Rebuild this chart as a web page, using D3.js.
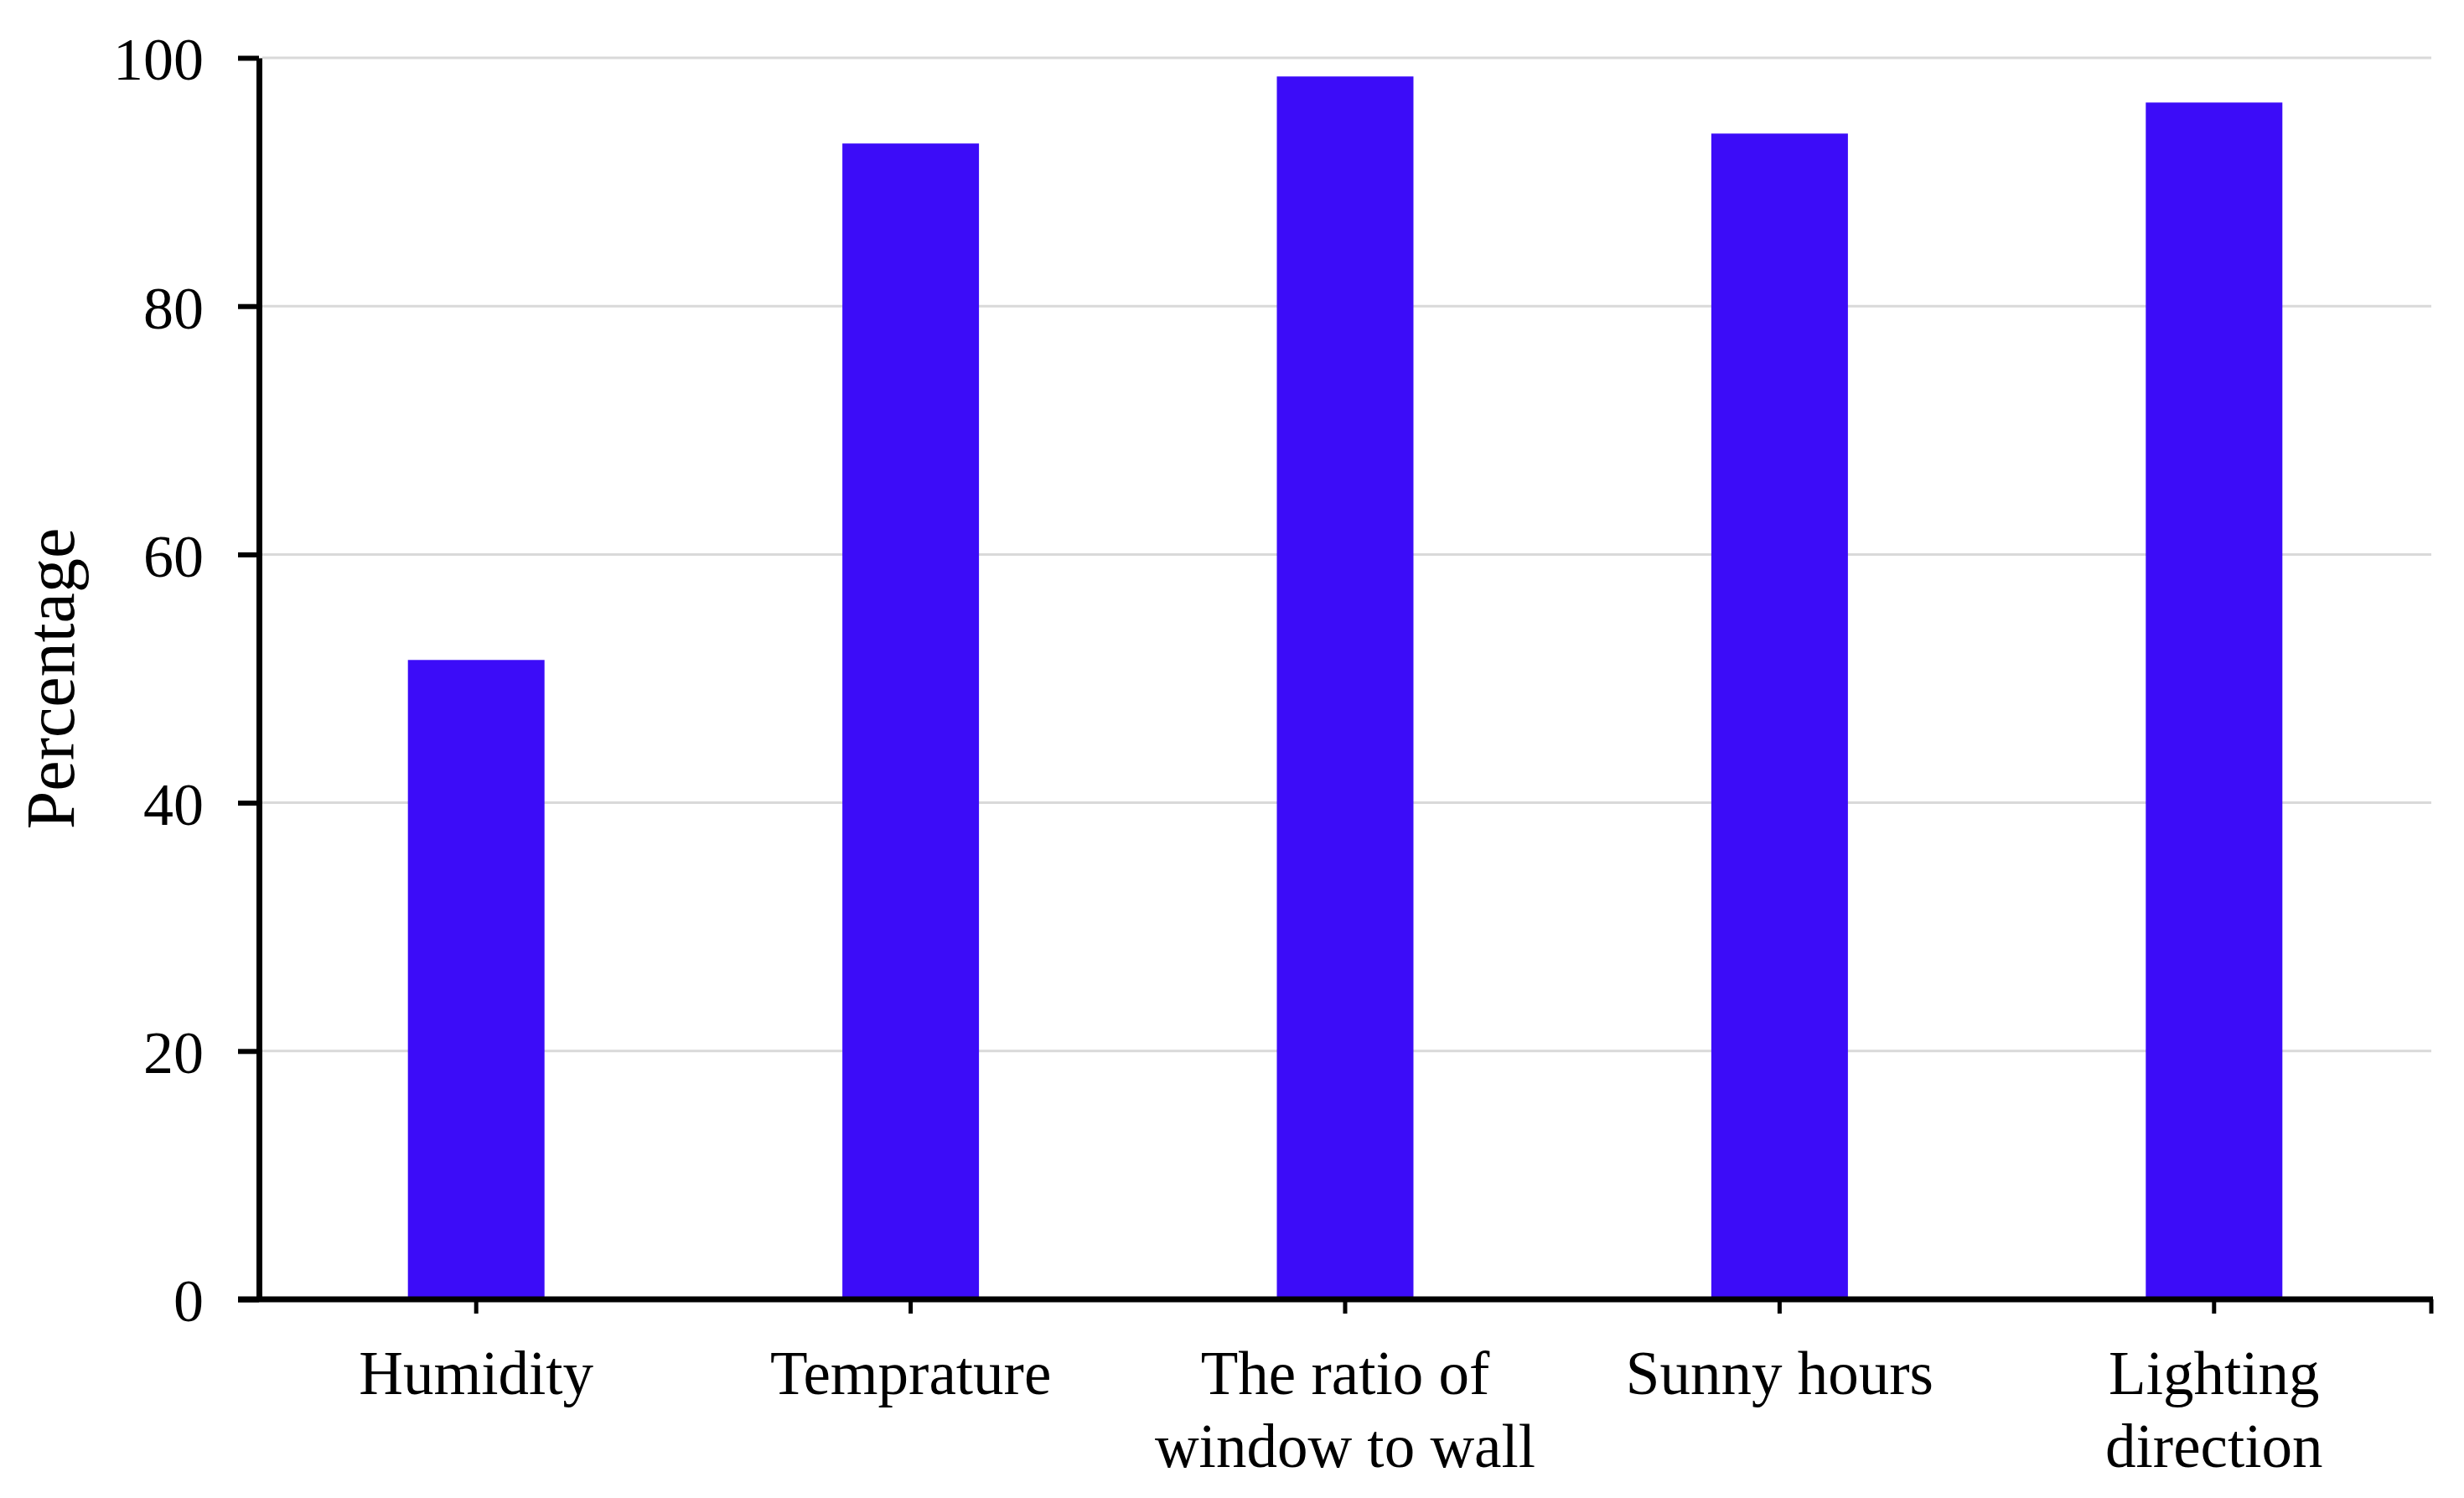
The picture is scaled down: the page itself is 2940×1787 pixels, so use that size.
<!DOCTYPE html>
<html>
<head>
<meta charset="utf-8">
<script src="https://cdn.jsdelivr.net/npm/d3@7"></script>
<style>
  html, body { margin: 0; padding: 0; background: #fff; }
  svg { display: block; }
  text { font-family: "Liberation Serif", "Times New Roman", serif; fill: #000; }
</style>
</head>
<body>
<svg id="chart" width="2940" height="1787"></svg>
<script>
const categories = [
  ["Humidity"],
  ["Temprature"],
  ["The ratio of", "window to wall"],
  ["Sunny hours"],
  ["Lighting", "direction"]
];
const values = [51.5, 93.1, 98.5, 93.9, 96.4];
const yTicks = [0, 20, 40, 60, 80, 100];
const yLabel = "Percentage";

const W = 2940, H = 1787;
const m = { left: 309, right: 39, top: 69, bottom: 237 };
const svg = d3.select("#chart");
const x = d3.scaleBand().domain(d3.range(categories.length))
  .range([m.left, W - m.right]).padding(0);
const y = d3.scaleLinear().domain([0, 100]).range([H - m.bottom, m.top]);
const barW = x.bandwidth() * 0.3144;

// gridlines
svg.append("g").selectAll("line").data(yTicks.filter(d => d > 0)).join("line")
  .attr("x1", m.left + 4).attr("x2", W - m.right)
  .attr("y1", d => y(d)).attr("y2", d => y(d))
  .attr("stroke", "#d9d9d9").attr("stroke-width", 3);

// bars
svg.append("g").selectAll("rect").data(values).join("rect")
  .attr("x", (d, i) => x(i) + x.bandwidth() / 2 - barW / 2)
  .attr("width", barW)
  .attr("y", d => y(d))
  .attr("height", d => y(0) - y(d))
  .attr("fill", "#3c0cf8");

// y axis
const yAxis = svg.append("g").attr("transform", `translate(${m.left},0)`)
  .call(d3.axisLeft(y).tickValues(yTicks).tickSize(25).tickSizeOuter(0).tickPadding(41));
yAxis.select(".domain").attr("stroke", "#000").attr("stroke-width", 7);
yAxis.selectAll(".tick line").attr("stroke", "#000").attr("stroke-width", 6);
yAxis.selectAll(".tick text").attr("font-size", 72)
  .attr("font-family", "Liberation Serif").attr("dy", "0.36em");

// x axis
const xAxis = svg.append("g").attr("transform", `translate(0,${y(0)})`)
  .call(d3.axisBottom(x).tickSize(17).tickSizeOuter(0).tickFormat(""));
xAxis.select(".domain").remove();
xAxis.selectAll(".tick line").attr("stroke", "#000").attr("stroke-width", 5);
xAxis.append("line").attr("x1", m.left - 25).attr("x2", W - m.right + 2)
  .attr("y1", 0).attr("y2", 0).attr("stroke", "#000").attr("stroke-width", 7);
xAxis.append("line").attr("x1", W - m.right).attr("x2", W - m.right)
  .attr("y1", 0).attr("y2", 17).attr("stroke", "#000").attr("stroke-width", 5);

// category labels
const lbl = svg.append("g").selectAll("text").data(categories).join("text")
  .attr("text-anchor", "middle").attr("font-size", 73)
  .attr("transform", (d, i) => `translate(${x(i) + x.bandwidth() / 2},1663)`);
lbl.selectAll("tspan").data(d => d).join("tspan")
  .attr("x", 0).attr("y", (d, j) => j * 87).text(d => d);

// y label
svg.append("text")
  .attr("transform", `translate(88,${(y(0) + y(100)) / 2 + 0}) rotate(-90)`)
  .attr("text-anchor", "middle").attr("font-size", 82).text(yLabel);
</script>
</body>
</html>
